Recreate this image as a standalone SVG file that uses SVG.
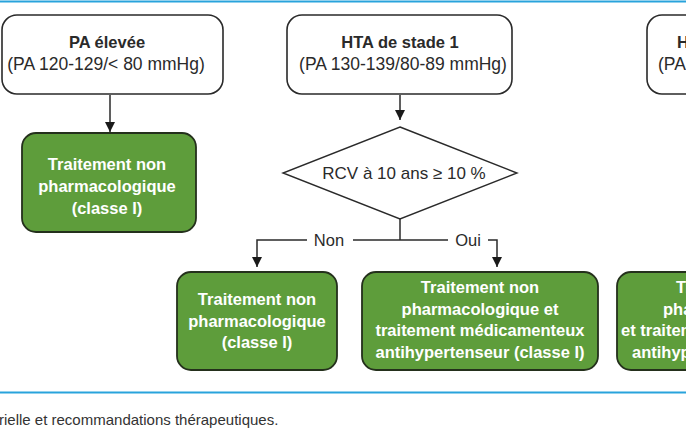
<svg xmlns="http://www.w3.org/2000/svg" width="686" height="430" viewBox="0 0 686 430">
<defs>
<marker id="ah" markerWidth="12" markerHeight="12" refX="10" refY="5" orient="auto" markerUnits="userSpaceOnUse">
<path d="M0,0 L10,5 L0,10 Z" fill="#1a1a1a"/>
</marker>
<style>
.wbox{fill:#ffffff;stroke:#2a2a2a;stroke-width:1.6}
.gbox{fill:#5e9d3b;stroke:#24301c;stroke-width:1.8}
.dia{fill:#ffffff;stroke:#2a2a2a;stroke-width:1.4}
.t{font-family:"Liberation Sans",Arial,sans-serif;font-size:17.5px;fill:#2a2a2a;text-anchor:middle}
.tb{font-family:"Liberation Sans",Arial,sans-serif;font-size:16.5px;font-weight:bold;fill:#2a2a2a;text-anchor:middle}
.gt{font-family:"Liberation Sans",Arial,sans-serif;font-size:16.5px;font-weight:bold;fill:#ffffff;text-anchor:middle}
.dt{font-family:"Liberation Sans",Arial,sans-serif;font-size:17px;fill:#2a2a2a;text-anchor:middle}
.lbl{font-family:"Liberation Sans",Arial,sans-serif;font-size:16.5px;fill:#2a2a2a;text-anchor:middle}
.cap{font-family:"Liberation Sans",Arial,sans-serif;font-size:15px;fill:#333333}
.conn{fill:none;stroke:#2a2a2a;stroke-width:1.5}
.rule{stroke:#29a3dc;stroke-width:2.2}
</style>
</defs>
<line class="rule" x1="0" y1="1.5" x2="686" y2="1.5"/>
<line class="rule" x1="0" y1="392.5" x2="686" y2="392.5"/>

<g id="connectors">
<line class="conn" x1="110" y1="95" x2="110" y2="132" marker-end="url(#ah)"/>
<line class="conn" x1="400" y1="95" x2="400" y2="120" marker-end="url(#ah)"/>
<polyline class="conn" points="400,219 400,240"/>
<polyline class="conn" points="307,240 257,240 257,267" marker-end="url(#ah)"/>
<line class="conn" x1="353" y1="240" x2="448" y2="240"/>
<polyline class="conn" points="488,240 497,240 497,267" marker-end="url(#ah)"/>
<text class="lbl" x="329" y="246">Non</text>
<text class="lbl" x="468" y="246">Oui</text>
</g>

<g id="pa-elevee">
<rect class="wbox" x="2" y="15" width="221" height="79" rx="15"/>
<text class="tb" x="107" y="48">PA élevée</text>
<text class="t" x="106" y="70">(PA 120-129/&lt; 80 mmHg)</text>
</g>

<g id="tnp-1">
<rect class="gbox" x="22" y="133" width="174" height="99" rx="14"/>
<text class="gt" x="107" y="170">Traitement non</text>
<text class="gt" x="107" y="192">pharmacologique</text>
<text class="gt" x="107" y="214">(classe I)</text>
</g>

<g id="hta-1">
<rect class="wbox" x="287" y="15" width="225" height="79" rx="15"/>
<text class="tb" x="400" y="48">HTA de stade 1</text>
<text class="t" x="403" y="70">(PA 130-139/80-89 mmHg)</text>
</g>

<g id="rcv">
<polygon class="dia" points="400,127 517,173 400,219 283,173"/>
<text class="dt" x="404" y="179">RCV à 10 ans ≥ 10 %</text>
</g>

<g id="tnp-2">
<rect class="gbox" x="177" y="272" width="160" height="98" rx="14"/>
<text class="gt" x="257" y="305">Traitement non</text>
<text class="gt" x="257" y="327">pharmacologique</text>
<text class="gt" x="257" y="348">(classe I)</text>
</g>

<g id="tnp-med">
<rect class="gbox" x="362" y="272" width="236" height="98" rx="14"/>
<text class="gt" x="480" y="293">Traitement non</text>
<text class="gt" x="480" y="315">pharmacologique et</text>
<text class="gt" x="480" y="336">traitement médicamenteux</text>
<text class="gt" x="480" y="358">antihypertenseur (classe I)</text>
</g>

<g id="hta-2">
<rect class="wbox" x="647" y="15" width="120" height="79" rx="15"/>
<text class="tb" x="677" y="48" style="text-anchor:start">HT</text>
<text class="t" x="658" y="70" style="text-anchor:start">(PA</text>
</g>

<g id="tnp-med-2">
<rect class="gbox" x="617" y="272" width="120" height="98" rx="14"/>
<text class="gt" x="676" y="293" style="text-anchor:start">Tr</text>
<text class="gt" x="663" y="315" style="text-anchor:start">pha</text>
<text class="gt" x="621" y="336" style="text-anchor:start">et traitem</text>
<text class="gt" x="632" y="358" style="text-anchor:start">antihype</text>
</g>

<text class="cap" x="-1" y="425">rielle et recommandations thérapeutiques.</text>
</svg>
